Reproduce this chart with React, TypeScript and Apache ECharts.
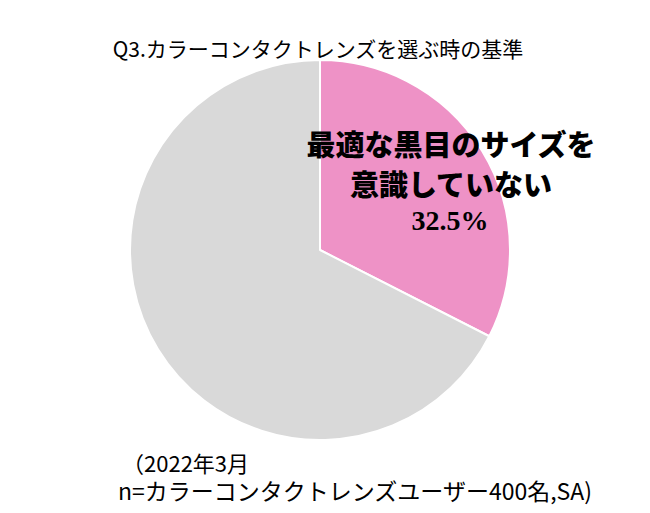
import React, { useEffect, useRef } from "react";
import * as echarts from "echarts";

const categories = ["最適な黒目のサイズを意識していない", "その他"];
const values = [32.5, 67.5];
const colors = ["#EE92C6", "#D9D9D9"];
const labelLines = ["最適な黒目のサイズを", "意識していない"];
const titleText = "Q3.カラーコンタクトレンズを選ぶ時の基準";
const noteLines = ["（2022年3月", "n=カラーコンタクトレンズユーザー400名,SA)"];

export default function App() {
  const ref = useRef<HTMLDivElement>(null);
  useEffect(() => {
    document.body.style.margin = "0";
    const chart = echarts.init(ref.current!, null, { renderer: "svg" });
    const jp = "'Noto Sans CJK JP', 'Noto Sans', sans-serif";
    chart.setOption({
      animation: false,
      backgroundColor: "#ffffff",
      series: [
        {
          type: "pie",
          z: 1,
          center: [320, 250],
          radius: [0, 190],
          startAngle: 90,
          clockwise: true,
          label: { show: false },
          labelLine: { show: false },
          emphasis: { disabled: true },
          itemStyle: { borderColor: "#ffffff", borderWidth: 2 },
          data: categories.map((c, i) => ({
            name: c,
            value: values[i],
            itemStyle: { color: colors[i] },
          })),
        },
      ],
      graphic: {
        elements: [
          {
            type: "text",
            z: 100,
            x: 318,
            y: 48,
            style: {
              text: titleText,
              font: `21px ${jp}`,
              fill: "#000",
              textAlign: "center",
              textVerticalAlign: "middle",
            },
          },
          {
            type: "text",
            z: 100,
            x: 451,
            y: 163,
            style: {
              text: labelLines.join("\n"),
              font: `900 29px ${jp}`,
              lineHeight: 40,
              fill: "#000",
              textAlign: "center",
              textVerticalAlign: "middle",
            },
          },
          {
            type: "text",
            z: 100,
            x: 450,
            y: 220,
            style: {
              text: `${values[0]}%`,
              font: `bold 28px 'Liberation Serif', 'DejaVu Serif', serif`,
              fill: "#000",
              textAlign: "center",
              textVerticalAlign: "middle",
            },
          },
          {
            type: "text",
            z: 100,
            x: 122,
            y: 462,
            style: {
              text: noteLines[0],
              font: `22px ${jp}`,
              fill: "#000",
              textAlign: "left",
              textVerticalAlign: "middle",
            },
          },
          {
            type: "text",
            z: 100,
            x: 118,
            y: 490,
            style: {
              text: noteLines[1],
              font: `23px ${jp}`,
              fill: "#000",
              textAlign: "left",
              textVerticalAlign: "middle",
            },
          },
        ],
      },
    });
    return () => chart.dispose();
  }, []);
  return <div ref={ref} style={{ width: 650, height: 513 }} />;
}
